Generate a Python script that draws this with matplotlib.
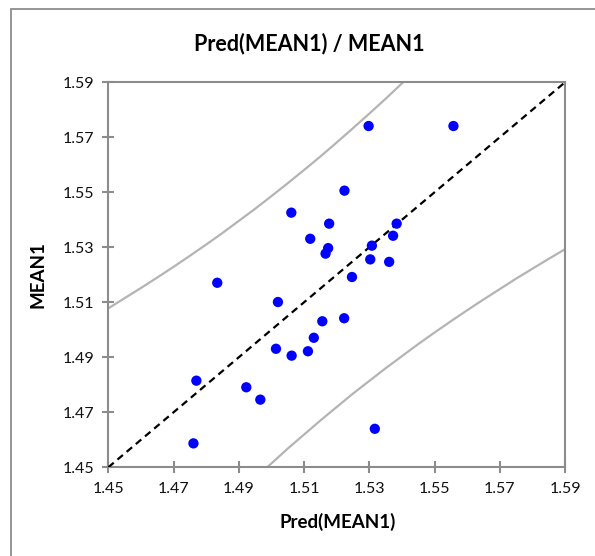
import matplotlib
matplotlib.use("Agg")
import matplotlib.pyplot as plt
from matplotlib.patches import Rectangle

plt.rcParams['font.family'] = ['Lato', 'DejaVu Sans']

# Observed points
pred = [1.5224, 1.5061, 1.5177, 1.5119, 1.5174, 1.5166, 1.4834, 1.5298, 1.5558,
        1.5384, 1.5373, 1.5308, 1.5303, 1.5361, 1.5247, 1.5020, 1.5156, 1.5223,
        1.5130, 1.5014, 1.5062, 1.5112, 1.4770, 1.4923, 1.4966, 1.4761, 1.5317]
mean1 = [1.5506, 1.5426, 1.5386, 1.5331, 1.5297, 1.5277, 1.5171, 1.5741, 1.5741,
         1.5386, 1.5342, 1.5306, 1.5256, 1.5247, 1.5192, 1.5101, 1.5031, 1.5042,
         1.4971, 1.4931, 1.4906, 1.4922, 1.4815, 1.4791, 1.4746, 1.4587, 1.4640]

# Upper / lower band curves
upper_x = [1.450, 1.455, 1.460, 1.465, 1.470, 1.475, 1.480, 1.485, 1.490, 1.495,
           1.500, 1.505, 1.510, 1.515, 1.520, 1.525, 1.530, 1.535, 1.540, 1.545]
upper_y = [1.5078, 1.5115, 1.5152, 1.5190, 1.5229, 1.5269, 1.5310, 1.5352, 1.5396, 1.5440,
           1.5486, 1.5533, 1.5581, 1.5630, 1.5681, 1.5733, 1.5786, 1.5840, 1.5896, 1.5952]
lower_x = [1.495, 1.500, 1.505, 1.510, 1.515, 1.520, 1.525, 1.530, 1.535, 1.540,
           1.545, 1.550, 1.555, 1.560, 1.565, 1.570, 1.575, 1.580, 1.585, 1.590]
lower_y = [1.4460, 1.4514, 1.4568, 1.4619, 1.4670, 1.4719, 1.4768, 1.4814, 1.4860, 1.4904,
           1.4948, 1.4990, 1.5031, 1.5071, 1.5110, 1.5148, 1.5186, 1.5222, 1.5258, 1.5293]

ticks = [1.45, 1.47, 1.49, 1.51, 1.53, 1.55, 1.57, 1.59]
tick_labels = ['1.45', '1.47', '1.49', '1.51', '1.53', '1.55', '1.57', '1.59']

W, H = 595, 556
fig = plt.figure(figsize=(W / 100, H / 100), dpi=100)
fig.patch.set_facecolor('white')

# outer chart border (left/top visible)
fig.patches.append(Rectangle((11 / W, -0.1), 1.2, (H - 9) / H + 0.1, transform=fig.transFigure,
                             fill=False, edgecolor='#8c8c8c', linewidth=1.3, zorder=0))

ax = fig.add_axes([108.3 / W, (H - 467.3) / H, (565 - 108.3) / W, 385 / H])
gray = '#8c8c8c'
for s in ax.spines.values():
    s.set_color(gray)
    s.set_linewidth(1.5)

ax.plot(upper_x, upper_y, color='#b4b4b4', lw=1.6, zorder=2)
ax.plot(lower_x, lower_y, color='#b4b4b4', lw=1.6, zorder=2)
ax.plot([ticks[0], ticks[-1]], [ticks[0], ticks[-1]], color='black', lw=1.6,
        linestyle=(0, (3.2, 2.2)), zorder=3)
ax.scatter(pred, mean1, s=55, color='#0000ff', edgecolors='none', zorder=4)

ax.set_xlim(1.45, 1.59)
ax.set_ylim(1.45, 1.59)
ax.set_xticks(ticks)
ax.set_xticklabels(tick_labels)
ax.set_yticks(ticks)
ax.set_yticklabels(tick_labels)
ax.tick_params(direction='inout', length=8.5, width=1.5, color=gray, labelsize=11.5,
               labelcolor='#111111', pad=6)

fig.text(309 / W, 1 - 43.5 / H, 'Pred(MEAN1) / MEAN1', ha='center', va='center',
         fontsize=15.5, fontweight='bold', color='#000000')
fig.text(338 / W, 1 - 522 / H, 'Pred(MEAN1)', ha='center', va='center',
         fontsize=13.5, fontweight='bold', color='#000000')
fig.text(38 / W, 1 - 275 / H, 'MEAN1', ha='center', va='center', rotation=90,
         fontsize=13.5, fontweight='bold', color='#000000')

fig.savefig('out.png', dpi=100)
